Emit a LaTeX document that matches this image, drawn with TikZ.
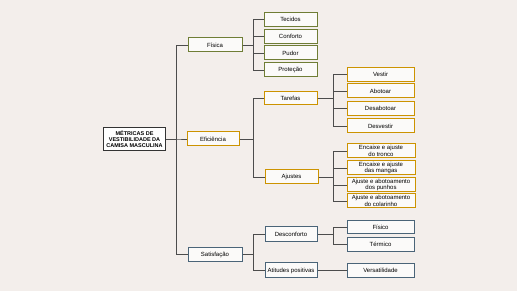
\documentclass[tikz,border=0pt]{standalone}
\usepackage{fontspec}
\setmainfont{Liberation Sans}
\usetikzlibrary{positioning}
\definecolor{paper}{HTML}{F3EEEB}
\definecolor{olive}{HTML}{6F7D35}
\definecolor{gold}{HTML}{CC9300}
\definecolor{slate}{HTML}{4A6478}

\begin{document}
\begin{tikzpicture}[x=1pt, y=-1pt, font=\fontsize{6}{6.4}\selectfont, box/.style={draw, line width=1pt, fill=white!70!paper, inner sep=1pt, align=center, minimum height=14pt}, fisbox/.style={box, draw=olive}, efibox/.style={box, draw=gold}, satbox/.style={box, draw=slate}, link/.style={draw=black!70, line width=0.8pt}]
\fill[paper] (0,0) rectangle (517,291);
\node[box, draw=black!80, line width=1.2pt, fill=white, minimum width=62pt, minimum height=23pt, font=\fontsize{5.5}{6}\selectfont\bfseries] (root) at (134.5,139) {MÉTRICAS DE\\VESTIBILIDADE DA\\CAMISA MASCULINA};
\node[fisbox, minimum width=54pt] (fis) at (215,45) {Física};
\node[efibox, minimum width=52pt] (efi) at (213,139) {Eficiência};
\node[satbox, minimum width=54pt] (sat) at (215,254.5) {Satisfação};
\foreach \p in {fis,efi,sat} \draw[link] (root.east) -- ++(10,0) |- (\p.west);
% fisica
\foreach \t/\y [count=\i] in {Tecidos/19.5, Conforto/36.5, Pudor/53, Proteção/70} {
  \node[fisbox, minimum width=53pt] (fis\i) at (290.5,\y) {\t};
  \draw[link] (fis.east) -- ++(11,0) |- (fis\i.west);
}
% eficiencia
\node[efibox, minimum width=53pt, minimum height=13pt] (tar) at (290.5,98.5) {Tarefas};
\node[efibox, minimum width=53pt] (aju) at (291.5,177) {Ajustes};
\foreach \p in {tar,aju} \draw[link] (efi.east) -- ++(14,0) |- (\p.west);
\foreach \t/\y [count=\i] in {Vestir/74.5, Abotoar/91, Desabotoar/108.5, Desvestir/126} {
  \node[efibox, minimum width=67pt] (tar\i) at (380.5,\y) {\t};
  \draw[link] (tar.east) -- ++(16,0) |- (tar\i.west);
}
\foreach \t/\y [count=\i] in {Encaixe e ajuste\\do tronco/151, Encaixe e ajuste\\das mangas/168, Ajuste e abotoamento\\dos punhos/185, Ajuste e abotoamento\\do colarinho/201} {
  \node[efibox, minimum width=68pt] (aju\i) at (381,\y) {\t};
  \draw[link] (aju.east) -- ++(15,0) |- (aju\i.west);
}
% satisfacao
\node[satbox, minimum width=52pt, minimum height=15pt] (des) at (291,234.5) {Desconforto};
\node[satbox, minimum width=52pt, minimum height=15pt] (ati) at (291,270.5) {Atitudes positivas};
\foreach \p in {des,ati} \draw[link] (sat.east) -- ++(11,0) |- (\p.west);
\node[satbox, minimum width=67pt, minimum height=13pt] (des1) at (380.5,227.5) {Físico};
\node[satbox, minimum width=67pt] (des2) at (380.5,244.5) {Térmico};
\foreach \p in {des1,des2} \draw[link] (des.east) -- ++(16,0) |- (\p.west);
\node[satbox, minimum width=67pt] (ver) at (380.5,270.5) {Versatilidade};
\draw[link] (ati.east) -- (ver.west);
\end{tikzpicture}
\end{document}
